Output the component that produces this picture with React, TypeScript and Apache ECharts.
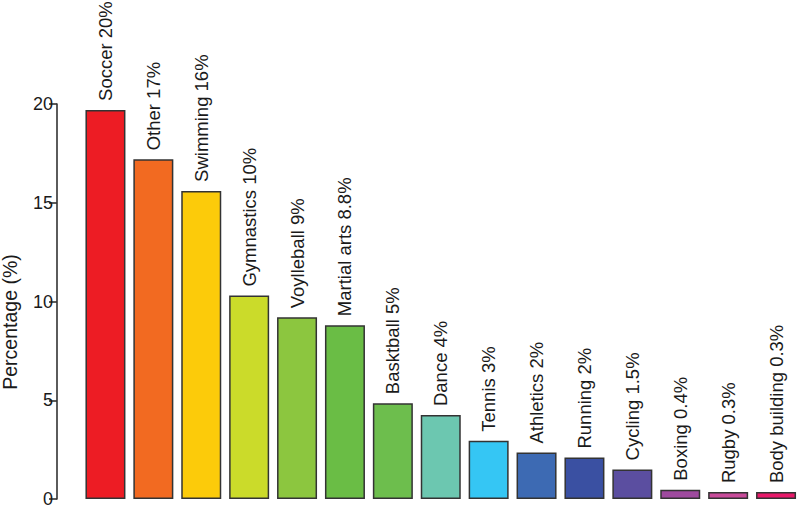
import React, { useEffect, useRef } from "react";
import * as echarts from "echarts";

const categories = [
  "Soccer", "Other", "Swimming", "Gymnastics", "Voylleball", "Martial arts",
  "Basktball", "Dance", "Tennis", "Athletics", "Running", "Cycling",
  "Boxing", "Rugby", "Body building",
];
const values = [19.7, 17.2, 15.6, 10.3, 9.2, 8.8, 4.85, 4.25, 2.95, 2.35, 2.1, 1.5, 0.47, 0.35, 0.35];
const labelPct = ["20%", "17%", "16%", "10%", "9%", "8.8%", "5%", "4%", "3%", "2%", "2%", "1.5%", "0.4%", "0.3%", "0.3%"];
const colors = [
  "#ED1C24", "#F26A21", "#FCCB0A", "#CBDB2A", "#8CC63F", "#6ABD45",
  "#6DBE4D", "#6CC7B0", "#35C6F4", "#3D6AB3", "#3A50A2", "#5B4EA0",
  "#9E4A9E", "#C84B9A", "#E8196A",
];
const yTicks = { min: 0, max: 20, interval: 5 };

const FONT = "'Liberation Sans', Arial, Helvetica, sans-serif";
const TEXT = "#1a1a1a";

export default function App() {
  const ref = useRef<HTMLDivElement>(null);
  useEffect(() => {
    if (!ref.current) return;
    const chart = echarts.init(ref.current, null, { renderer: "svg" });
    chart.setOption({
      animation: false,
      backgroundColor: "#ffffff",
      grid: { left: 81.5, top: 104, width: 721, bottom: 6, containLabel: false },
      xAxis: {
        type: "category",
        data: categories,
        axisLine: { show: false },
        axisTick: { show: false },
        axisLabel: { show: false },
        splitLine: { show: false },
      },
      yAxis: {
        type: "value",
        min: yTicks.min,
        max: yTicks.max,
        interval: yTicks.interval,
        offset: 24.5,
        axisLine: { show: true, lineStyle: { color: "#333333", width: 1.6 } },
        axisTick: { show: true, length: 8, lineStyle: { color: "#333333", width: 1.6 } },
        axisLabel: { color: TEXT, fontSize: 18, fontFamily: FONT, margin: 4 },
        splitLine: { show: false },
      },
      graphic: [
        {
          type: "text",
          x: 10,
          y: 322,
          rotation: Math.PI / 2,
          style: {
            text: "Percentage (%)",
            fill: TEXT,
            font: `19.5px ${FONT}`,
            textAlign: "center",
            textVerticalAlign: "middle",
          },
        },
      ],
      series: [
        {
          type: "bar",
          barWidth: 40,
          data: values.map((v, i) => ({
            value: v,
            itemStyle: { color: colors[i], borderColor: "#333333", borderWidth: 1.5 },
          })),
          label: {
            show: true,
            position: "top",
            distance: 9,
            rotate: 90,
            align: "left",
            verticalAlign: "middle",
            color: TEXT,
            fontSize: 18.5,
            fontFamily: FONT,
            formatter: (p: any) => `${categories[p.dataIndex]} ${labelPct[p.dataIndex]}`,
          },
        },
      ],
    });
    return () => chart.dispose();
  }, []);
  return <div ref={ref} style={{ width: 800, height: 508, position: "absolute", left: 0, top: 0 }} />;
}
